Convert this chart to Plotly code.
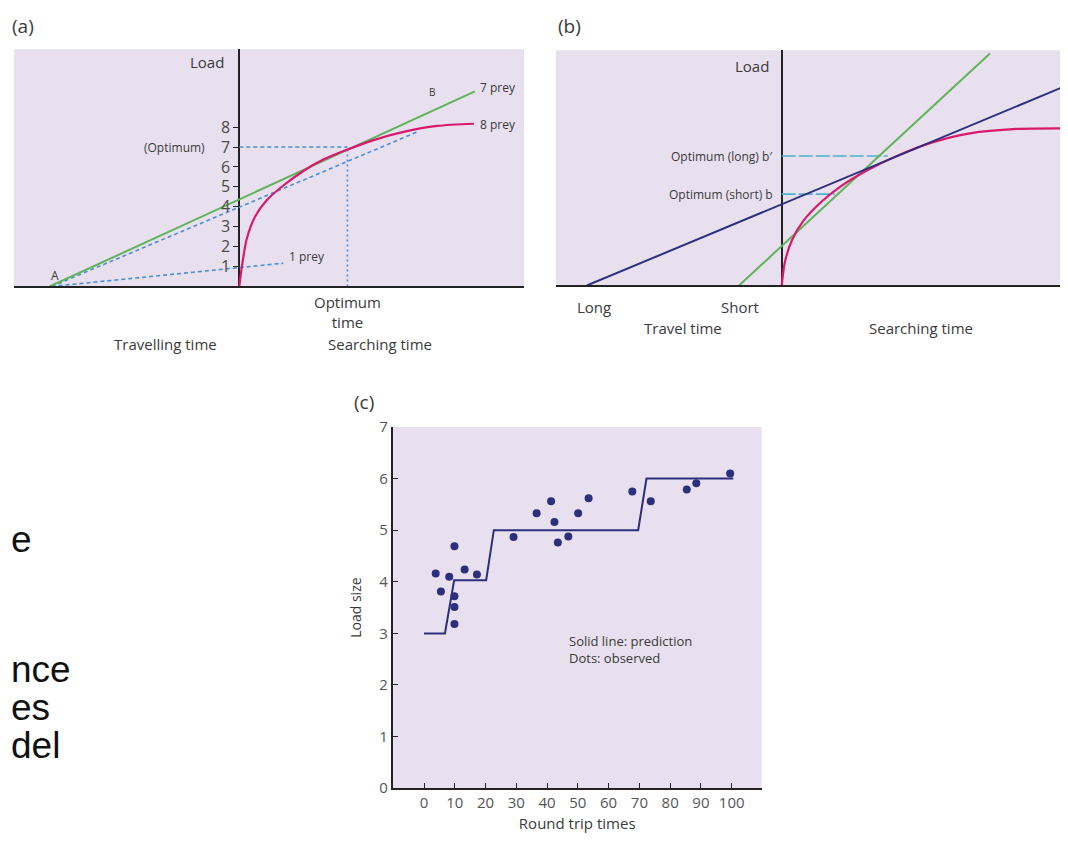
import plotly.graph_objects as go

# page body has an 8px default margin; size the figure to fill the rest of the window
OX, OY = 8, 8
W, H = 1068 - OX, 845 - OY
BG = "#e8e0ee"
AXC = "#222222"
TXT = "#3a3a3a"
GREEN = "#5fb35a"
MAGENTA = "#d9196c"
BLUED = "#4a8fd6"
NAVY = "#2c2f7c"
CYAN = "#4fb0cf"
FONT = "Open Sans"

# ---------------- panel (a) data ----------------
a_ytick_vals = [1, 2, 3, 4, 5, 6, 7, 8]
a_curve_t = [0, 0.12, 0.36, 0.77, 1.34, 2.16, 3.14, 4.12, 5.27, 6.58, 8.05, 9.69, 11.5]
a_curve_load = [0, 0.95, 2.37, 3.5, 4.33, 5.07, 5.8, 6.37, 6.86, 7.35, 7.76, 8.06, 8.17]
a_green_t = [-9.3, 11.55]
a_green_load = [0, 9.8]
a_dash8_t = [-9.2, 8.7]
a_dash8_load = [0, 7.75]
a_dash1_t = [-9.2, 2.15]
a_dash1_load = [0, 1.17]
a_opt_t = 5.3
a_opt_load = 7

# ---------------- panel (b) data ----------------
b_curve_t = [0, 0.16, 0.49, 1.06, 1.88, 2.86, 4.17, 5.64, 7.27, 9.23, 11.52, 13.89]
b_curve_load = [0, 1.19, 2.25, 3.24, 4.14, 4.95, 5.77, 6.5, 7.15, 7.64, 7.86, 7.89]
b_long_t = [-9.55, 13.89]
b_long_load = [0, 10.01]
b_short_t = [-2.09, 10.21]
b_short_load = [0, 11.65]
b_opt_long = 6.5
b_opt_long_end = 5.2
b_opt_short = 4.59
b_opt_short_end = 2.6

# ---------------- panel (c) data ----------------
c_pred_x = [0, 6.8, 9.8, 20.2, 22.7, 69.6, 72.3, 100.5]
c_pred_y = [3, 3, 4.03, 4.03, 5, 5, 6, 6]
c_obs_x = [3.8, 5.5, 8.2, 9.9, 9.9, 9.9, 9.9, 13.2, 17.2, 29.1, 36.6, 41.3, 42.4, 43.5,
           46.9, 50.1, 53.5, 67.7, 73.7, 85.4, 88.5, 99.5]
c_obs_y = [4.16, 3.81, 4.10, 4.69, 3.72, 3.51, 3.18, 4.24, 4.14, 4.87, 5.33, 5.56, 5.16, 4.76,
           4.88, 5.33, 5.62, 5.75, 5.56, 5.79, 5.91, 6.10]
c_xticks = [0, 10, 20, 30, 40, 50, 60, 70, 80, 90, 100]
c_yticks = [0, 1, 2, 3, 4, 5, 6, 7]

# slide text fragments visible at the left edge of the reference
side_fragments = ["e", "nce", "es", "del"]
side_fragment_rows = [541, 674, 713, 752]


def fx(px):
    return (px - OX) / W


def fy(py):
    return 1 - (py - OY) / H


fig = go.Figure()

dash_style = "4px,3px"

# panel (a)
fig.add_trace(go.Scatter(x=a_dash1_t, y=a_dash1_load, mode="lines",
                         line=dict(color=BLUED, width=1.6, dash=dash_style), xaxis="x", yaxis="y"))
fig.add_trace(go.Scatter(x=[0, a_opt_t], y=[a_opt_load, a_opt_load], mode="lines",
                         line=dict(color=BLUED, width=1.6, dash=dash_style), xaxis="x", yaxis="y"))
fig.add_trace(go.Scatter(x=[a_opt_t, a_opt_t], y=[0, a_opt_load], mode="lines",
                         line=dict(color=BLUED, width=1.6, dash="2px,3px"), xaxis="x", yaxis="y"))
fig.add_trace(go.Scatter(x=a_dash8_t, y=a_dash8_load, mode="lines",
                         line=dict(color=BLUED, width=1.6, dash=dash_style), xaxis="x", yaxis="y"))
fig.add_trace(go.Scatter(x=a_green_t, y=a_green_load, mode="lines",
                         line=dict(color=GREEN, width=2), xaxis="x", yaxis="y"))
fig.add_trace(go.Scatter(x=a_curve_t, y=a_curve_load, mode="lines",
                         line=dict(color=MAGENTA, width=2.2, shape="spline", smoothing=0.8),
                         xaxis="x", yaxis="y"))

# panel (b)
fig.add_trace(go.Scatter(x=[0, b_opt_long_end], y=[b_opt_long, b_opt_long], mode="lines",
                         line=dict(color=CYAN, width=1.6, dash="14px,3px"), xaxis="x2", yaxis="y2"))
fig.add_trace(go.Scatter(x=[0, b_opt_short_end], y=[b_opt_short, b_opt_short], mode="lines",
                         line=dict(color=CYAN, width=1.6, dash="14px,3px"), xaxis="x2", yaxis="y2"))
fig.add_trace(go.Scatter(x=b_short_t, y=b_short_load, mode="lines",
                         line=dict(color=GREEN, width=2), xaxis="x2", yaxis="y2"))
fig.add_trace(go.Scatter(x=b_curve_t, y=b_curve_load, mode="lines",
                         line=dict(color=MAGENTA, width=2.2, shape="spline", smoothing=0.8),
                         xaxis="x2", yaxis="y2"))
fig.add_trace(go.Scatter(x=b_long_t, y=b_long_load, mode="lines",
                         line=dict(color=NAVY, width=2), xaxis="x2", yaxis="y2"))

# panel (c)
fig.add_trace(go.Scatter(x=c_pred_x, y=c_pred_y, mode="lines",
                         line=dict(color=NAVY, width=2), xaxis="x3", yaxis="y3"))
fig.add_trace(go.Scatter(x=c_obs_x, y=c_obs_y, mode="markers",
                         marker=dict(color=NAVY, size=8), xaxis="x3", yaxis="y3"))

# axes ranges / domains (reference pixel positions)
a_x0, a_x1 = 14, 524
a_y0, a_y1 = 39, 282
a_zero_px = 239.3
a_scale = 20.4
a_xr = [(a_x0 - a_zero_px) / a_scale, (a_x1 - a_zero_px) / a_scale]
a_yr = [0, (a_y1 - a_y0) / a_scale]

b_x0, b_x1 = 556, 1066
b_y0, b_y1 = 40, 281
b_zero_px = 781.7
b_xr = [(b_x0 - b_zero_px) / a_scale, (b_x1 - b_zero_px) / a_scale]
b_yr = [0, (b_y1 - b_y0) / a_scale]

c_x0, c_x1 = 392.7, 761.7
c_y0, c_y1 = 426, 796
c_zero_px = 424.0
c_scale = 3.077
c_xr = [(c_x0 - c_zero_px) / c_scale, (c_x1 - c_zero_px) / c_scale]

common_x = dict(showgrid=False, showticklabels=False, ticks="", showline=True,
                linecolor=AXC, linewidth=1.6, zeroline=True, zerolinecolor=AXC,
                zerolinewidth=1.6, fixedrange=True)

fig.update_layout(
    width=W, height=H,
    margin=dict(l=0, r=0, t=0, b=0),
    paper_bgcolor="white", plot_bgcolor=BG,
    showlegend=False,
    font=dict(family=FONT, color=TXT),
    xaxis=dict(domain=[fx(a_x0), fx(a_x1)], range=a_xr, anchor="y", **common_x),
    yaxis=dict(domain=[fy(a_y1), fy(a_y0)], range=a_yr, anchor="free",
               position=fx(a_zero_px), tickvals=a_ytick_vals, ticks="outside", ticklen=6,
               tickcolor=AXC, tickwidth=1.4, showgrid=False, zeroline=False, showline=False,
               tickfont=dict(size=16, color="#4a4a4a", family=FONT)),
    xaxis2=dict(domain=[fx(b_x0), fx(b_x1)], range=b_xr, anchor="y2", **common_x),
    yaxis2=dict(domain=[fy(b_y1), fy(b_y0)], range=b_yr, anchor="x2", showgrid=False,
                showticklabels=False, ticks="", zeroline=False, showline=False),
    xaxis3=dict(domain=[fx(c_x0), fx(c_x1)], range=c_xr, anchor="y3",
                tickvals=c_xticks, ticks="inside", ticklen=5, tickcolor=AXC,
                showline=True, linecolor=AXC, linewidth=1.6, showgrid=False, zeroline=False,
                tickfont=dict(size=15, color="#555555"),
                title=dict(text="Round trip times", font=dict(size=15, color=TXT), standoff=8)),
    yaxis3=dict(domain=[fy(c_y1), fy(c_y0)], range=[0, 7], anchor="x3",
                tickvals=c_yticks, ticks="inside", ticklen=5, tickcolor=AXC,
                showline=True, linecolor=AXC, linewidth=1.6, showgrid=False, zeroline=False,
                tickfont=dict(size=15, color="#555555"),
                title=dict(text="Load size", font=dict(size=14, color=TXT), standoff=14)),
)


def ann_px(text, px, py, size=15, xanchor="center", family=FONT, color=TXT, align="center"):
    fig.add_annotation(text=text, x=fx(px), y=fy(py), xref="paper", yref="paper",
                       xanchor=xanchor, yanchor="middle", showarrow=False, align=align,
                       font=dict(size=size, family=family, color=color))


def ann_data(text, x, y, xr, yr, size=11, xanchor="left", align="left"):
    fig.add_annotation(text=text, x=x, y=y, xref=xr, yref=yr, xanchor=xanchor,
                       yanchor="middle", showarrow=False, align=align,
                       font=dict(size=size, family=FONT, color=TXT))


# panel (a) labels
ann_px("(a)", 10, 15, size=19, xanchor="left")
ann_px("Load", 226, 52, size=15, xanchor="right")
ann_data("(Optimum)", -1.6, 7, "x", "y", size=12, xanchor="right")
ann_data("7 prey", 11.7, 10.0, "x", "y", size=12)
ann_data("8 prey", 11.7, 8.15, "x", "y", size=12)
ann_data("B", 9.45, 9.75, "x", "y", size=10, xanchor="center")
ann_data("1 prey", 2.35, 1.5, "x", "y", size=12)
ann_data("A", -9.05, 0.55, "x", "y", size=12, xanchor="center")
fig.add_annotation(text="Optimum<br>time", x=a_opt_t, y=fy(308), xref="x", yref="paper",
                   showarrow=False, yanchor="middle", font=dict(size=15, family=FONT, color=TXT))
ann_px("Travelling time", 165, 341, size=15)
ann_px("Searching time", 380, 341, size=15)

# panel (b) labels
ann_px("(b)", 556, 15, size=19, xanchor="left")
ann_px("Load", 771, 56, size=15, xanchor="right")
ann_data("Optimum (long) b\u2032", -0.35, b_opt_long, "x2", "y2", size=12, xanchor="right")
ann_data("Optimum (short) b", -0.35, b_opt_short, "x2", "y2", size=12, xanchor="right")
ann_px("Long", 594, 303, size=15)
ann_px("Short", 740, 303, size=15)
ann_px("Travel time", 683, 325, size=15)
ann_px("Searching time", 921, 325, size=15)

# panel (c) labels
ann_px("(c)", 352, 400, size=19, xanchor="left")
ann_data("Solid line: prediction<br>Dots: observed", 46.5, 2.68, "x3", "y3", size=13)

# slide text fragments at the left edge, kept fully visible
for frag, py in zip(side_fragments, side_fragment_rows):
    ann_px(frag, OX + 1, py, size=37, xanchor="left", family="Liberation Sans", color="#111111")

fig.write_html("out.html")
